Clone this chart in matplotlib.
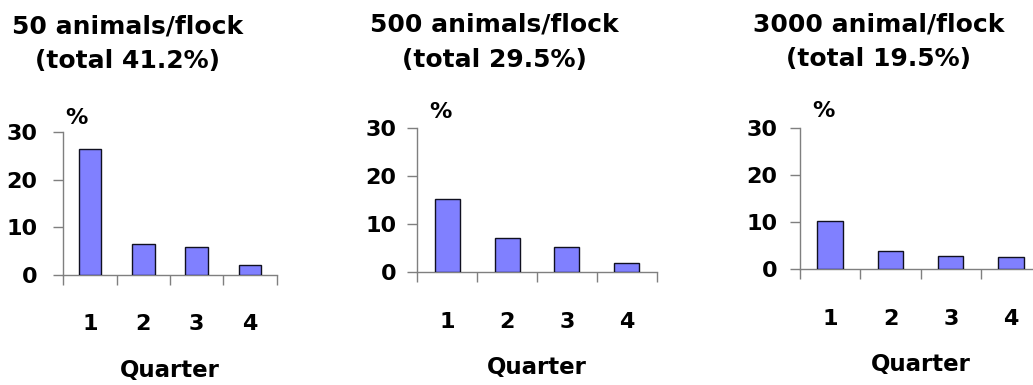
import numpy as np
import matplotlib.pyplot as plt

plt.rcParams['font.family'] = 'DejaVu Sans'
plt.rcParams['font.weight'] = 'bold'

# data
quarters = [1, 2, 3, 4]
titles = ['50 animals/flock', '500 animals/flock', '3000 animal/flock']
totals = ['(total 41.2%)', '(total 29.5%)', '(total 19.5%)']
flock_50 = [26.5, 6.6, 5.9, 2.2]
flock_500 = [15.2, 7.2, 5.2, 1.9]
flock_3000 = [10.2, 3.9, 2.8, 2.6]
series = [flock_50, flock_500, flock_3000]
y_ticks = [0, 10, 20, 30]

W, H = 1033, 385
fig = plt.figure(figsize=(W / 100, H / 100), dpi=100, facecolor='white')

# layout in pixels: left, bottom(from top), width, height
boxes = [(63.3, 275.0, 213.4, 143.0),
         (417.3, 272.3, 239.4, 144.0),
         (800.0, 269.3, 241.3, 141.6)]
title_pos = [(127.5, 33, 68), (494, 31, 66.5), (879, 31, 66)]
ylab_pad = [11.5, 8.0, 9.0]
pct_off = [(12.7, 14), (22.7, 16.6), (23.3, 16.9)]
axis_col = '#7f7f7f'

for i, vals in enumerate(series):
    l, b, w, h = boxes[i]
    ax = fig.add_axes([l / W, (H - b) / H, w / W, h / H])
    ax.bar(quarters, vals, width=0.42, color='#8080ff', edgecolor='#101020', linewidth=1.0, zorder=3)
    ax.set_xlim(0.5, 4.5)
    ax.set_ylim(0, 30)
    for s in ['top', 'right']:
        ax.spines[s].set_visible(False)
    for s in ['left', 'bottom']:
        ax.spines[s].set_color(axis_col)
        ax.spines[s].set_linewidth(1.0)
    ax.set_yticks(y_ticks)
    ax.set_yticklabels([str(v) for v in y_ticks])
    ax.set_xticks(np.arange(0.5, 5, 1.0))
    ax.set_xticklabels([])
    ax.set_xticks(quarters, minor=True)
    ax.set_xticklabels([str(q) for q in quarters], minor=True)
    ax.tick_params(axis='x', which='major', length=7.2, width=1.0, color=axis_col, direction='out')
    ax.tick_params(axis='x', which='minor', length=0, pad=28.4, labelsize=16)
    ax.tick_params(axis='y', length=7.2, width=1.0, color=axis_col, direction='out',
                   pad=ylab_pad[i], labelsize=16)
    for t in ax.get_xticklabels(minor=True) + ax.get_yticklabels():
        t.set_fontweight('bold')

    ax.annotate('Quarter', xy=(0.5, 0), xycoords='axes fraction', xytext=(0, -102),
                textcoords='offset pixels', ha='center', va='baseline',
                fontsize=16.5, fontweight='bold')
    ax.annotate('%', xy=(0, 1), xycoords='axes fraction', xytext=pct_off[i],
                textcoords='offset pixels', ha='center', va='center',
                fontsize=16, fontweight='bold', annotation_clip=False)

    tx, y1, y2 = title_pos[i]
    fig.text(tx / W, (H - y1) / H, titles[i], ha='center', va='baseline',
             fontsize=18, fontweight='bold')
    fig.text(tx / W, (H - y2) / H, totals[i], ha='center', va='baseline',
             fontsize=18, fontweight='bold')

plt.savefig('out.png', dpi=100, facecolor='white')
